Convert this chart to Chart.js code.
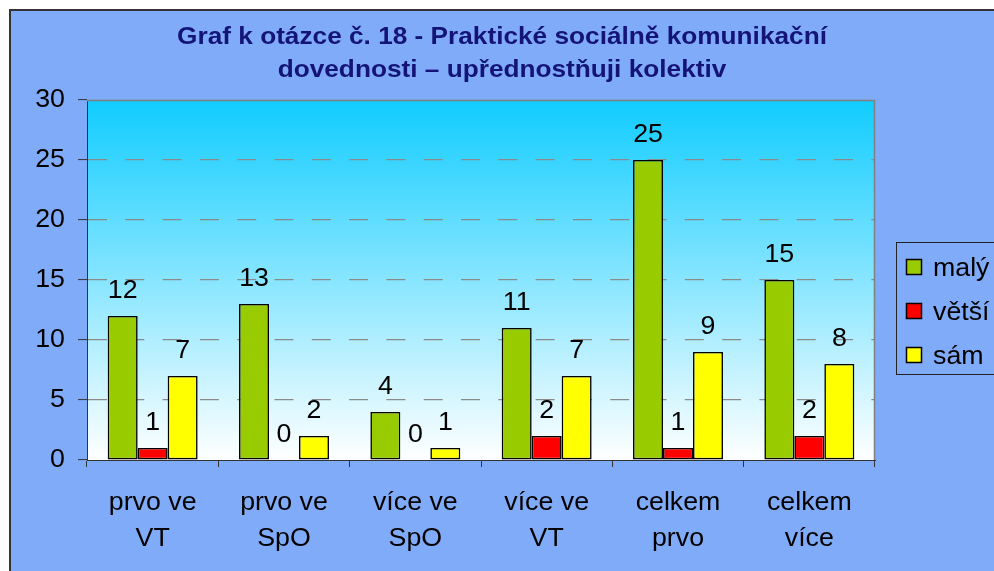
<!DOCTYPE html>
<html>
<head>
<meta charset="utf-8">
<script src="https://cdn.jsdelivr.net/npm/chart.js@4/dist/chart.umd.min.js"></script>
<style>
  html, body { margin: 0; padding: 0; background: #ffffff; overflow: hidden; }
  canvas { display: block; }
</style>
</head>
<body>
<canvas id="c" width="994" height="571"></canvas>
<script>
const titleLines = ["Graf k otázce č. 18 - Praktické sociálně komunikační", "dovednosti – upřednostňuji kolektiv"];
const categories = [["prvo ve", "VT"], ["prvo ve", "SpO"], ["více ve", "SpO"], ["více ve", "VT"], ["celkem", "prvo"], ["celkem", "více"]];
const seriesNames = ["malý", "větší", "sám"];
const malyValues = [12, 13, 4, 11, 25, 15];
const vetsiValues = [1, 0, 0, 2, 1, 2];
const samValues = [7, 2, 1, 7, 9, 8];
const yMin = 0, yMax = 30, yStep = 5;

const FONT = "'Liberation Sans', Arial, sans-serif";
const TEXT_STRETCH = 1.07;
Chart.defaults.font.family = FONT;

// the reference's lettering is slightly widened horizontally
function stretchText(ctx) {
  if (ctx.__stretched) return;
  const orig = ctx.fillText;
  ctx.fillText = function (t, x, y, maxWidth) {
    this.save();
    this.translate(x, y);
    this.scale(TEXT_STRETCH, 1);
    if (maxWidth === undefined) orig.call(this, t, 0, 0);
    else orig.call(this, t, 0, 0, maxWidth / TEXT_STRETCH);
    this.restore();
  };
  ctx.__stretched = true;
}

const backgroundPlugin = {
  id: 'bg',
  beforeDraw(chart) {
    const ctx = chart.ctx;
    stretchText(ctx);
    ctx.save();
    ctx.fillStyle = '#ffffff';
    ctx.fillRect(0, 0, chart.width, chart.height);
    ctx.fillStyle = '#333333';
    ctx.fillRect(9, 9, chart.width - 9, chart.height - 9);
    ctx.fillStyle = '#80ABF8';
    ctx.fillRect(11, 11, chart.width - 11, chart.height - 11);
    const a = chart.chartArea;
    const g = ctx.createLinearGradient(0, a.top, 0, a.bottom);
    g.addColorStop(0, '#10CCFF');
    g.addColorStop(1, '#FFFFFF');
    ctx.fillStyle = g;
    ctx.fillRect(a.left, a.top, a.right - a.left, a.bottom - a.top);
    ctx.restore();
  },
  beforeDatasetsDraw(chart) {
    const ctx = chart.ctx, a = chart.chartArea;
    ctx.save();
    ctx.strokeStyle = '#808080';
    ctx.lineWidth = 1.5;
    ctx.beginPath();
    ctx.moveTo(a.left, a.top + 0.5);
    ctx.lineTo(a.right - 0.5, a.top + 0.5);
    ctx.lineTo(a.right - 0.5, a.bottom);
    ctx.stroke();
    ctx.restore();
  },
  afterDatasetsDraw(chart) {
    const ctx = chart.ctx;
    ctx.save();
    ctx.font = '25px ' + FONT;
    ctx.fillStyle = '#000000';
    ctx.textAlign = 'center';
    ctx.textBaseline = 'alphabetic';
    chart.data.datasets.forEach((ds, i) => {
      const meta = chart.getDatasetMeta(i);
      meta.data.forEach((bar, j) => {
        ctx.fillText(String(ds.data[j]), bar.x, bar.y - 18);
      });
    });
    // legend
    const lx = 896, ly = 242, lh = 132;
    ctx.strokeStyle = '#222222';
    ctx.lineWidth = 1;
    ctx.strokeRect(lx + 0.5, ly + 0.5, 140, lh);
    const rows = [267, 311, 355];
    ctx.textAlign = 'left';
    chart.data.datasets.forEach((ds, i) => {
      const cy = rows[i];
      ctx.fillStyle = ds.backgroundColor;
      ctx.fillRect(906, cy - 8, 16, 16);
      ctx.strokeStyle = '#000000';
      ctx.lineWidth = 1.5;
      ctx.strokeRect(906.5, cy - 7.5, 15, 15);
      ctx.fillStyle = '#000000';
      ctx.fillText(ds.label, 933, cy + 8.5);
    });
    ctx.restore();
  }
};

const mk = (label, data, color) => ({
  label, data, backgroundColor: color, borderColor: '#000000', borderWidth: 1.6, borderSkipped: false
});

new Chart(document.getElementById('c'), {
  type: 'bar',
  data: {
    labels: categories,
    datasets: [
      mk(seriesNames[0], malyValues, '#99CC00'),
      mk(seriesNames[1], vetsiValues, '#FF0000'),
      mk(seriesNames[2], samValues, '#FFFF00')
    ]
  },
  options: {
    responsive: false,
    animation: false,
    devicePixelRatio: 1,
    layout: { padding: { top: 10, left: 10, right: 0, bottom: 0 } },
    categoryPercentage: 0.685,
    barPercentage: 1,
    plugins: {
      legend: { display: false },
      tooltip: { enabled: false },
      title: {
        display: true,
        text: titleLines,
        color: '#141478',
        font: { size: 24.5, weight: 'bold', family: FONT, lineHeight: 33 / 24.5 },
        padding: { top: 11, bottom: 13 }
      }
    },
    scales: {
      x: {
        grid: { offset: true, drawOnChartArea: false, drawTicks: true, tickLength: 7, tickColor: '#333333', tickWidth: 1 },
        border: { display: true, color: '#333333', width: 1 },
        ticks: { color: '#000000', font: { size: 25, family: FONT, lineHeight: 36 / 25 }, padding: 18, maxRotation: 0, autoSkip: false },
        afterFit(s) { s.height = 111; }
      },
      y: {
        min: yMin, max: yMax,
        ticks: { stepSize: yStep, color: '#000000', font: { size: 25, family: FONT }, padding: 13 },
        grid: {
          color: (c) => (c.tick && (c.tick.value === yMin || c.tick.value === yMax)) ? 'rgba(0,0,0,0)' : '#8A8A8A',
          lineWidth: 1.2,
          tickLength: 9, tickColor: '#333333', tickWidth: 1, tickBorderDash: []
        },
        border: { display: true, color: '#333333', width: 1, dash: [19, 18.3] },
        afterFit(s) { s.width = 77; }
      },
      yR: {
        type: 'linear', position: 'right', display: true,
        grid: { display: false }, ticks: { display: false }, border: { display: false },
        afterFit(s) { s.width = 119; }
      }
    }
  },
  plugins: [backgroundPlugin]
});
</script>
</body>
</html>
